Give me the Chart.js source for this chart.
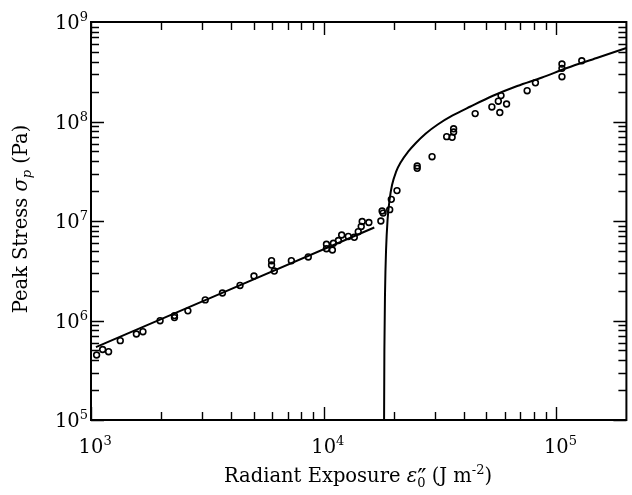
<!DOCTYPE html>
<html>
<head>
<meta charset="utf-8">
<script src="https://cdn.jsdelivr.net/npm/chart.js@4.4.1/dist/chart.umd.min.js"></script>
<style>
  html, body { margin: 0; padding: 0; background: #fff; }
</style>
</head>
<body>
<canvas id="chart" width="632" height="495"></canvas>
<script>
/* ===== Data ===== */
const measX = [1057, 1122, 1190, 1336, 1567, 1672, 1981, 2284, 2284, 2609,
               3097, 3672, 4370, 5016, 5970, 5970, 6135, 7263, 8587, 10280,
               10280, 10900, 11010, 11570, 11950, 12760, 13540, 14080, 14500, 14640,
               15640, 17610, 17830, 18000, 19220, 19530, 20660, 25230, 25230, 29230,
               33780, 35650, 36180, 36180, 44780, 52830, 56310, 57830, 57150, 61100,
               74900, 81290, 105700, 105700, 105700, 128600];
const measY = [4.50e5, 5.11e5, 4.86e5, 6.27e5, 7.32e5, 7.72e5, 9.95e5, 1.12e6, 1.07e6, 1.25e6,
               1.61e6, 1.89e6, 2.25e6, 2.80e6, 3.99e6, 3.61e6, 3.14e6, 3.99e6, 4.35e6, 5.83e6,
               5.27e6, 5.11e6, 5.97e6, 6.37e6, 7.23e6, 6.99e6, 6.86e6, 7.81e6, 8.81e6, 9.89e6,
               9.66e6, 1.00e7, 1.26e7, 1.20e7, 1.30e7, 1.65e7, 2.02e7, 3.57e7, 3.38e7, 4.43e7,
               7.04e7, 6.94e7, 7.84e7, 8.45e7, 1.20e8, 1.40e8, 1.60e8, 1.82e8, 1.23e8, 1.50e8,
               2.04e8, 2.45e8, 3.78e8, 3.42e8, 2.82e8, 4.08e8];

// low-exposure fit (straight on log-log)
const lowFitX = [1050, 16500];
const lowFitY = [5.4e5, 8.6e6];

// high-exposure model curve
const highFitX = [18180, 18235, 18360, 18540, 18815, 19190, 19670, 20460, 21480, 23020,
                  24900, 27480, 30920, 35830, 42770, 53090, 67880, 86800, 111000, 149100, 200000];
const highFitY = [1e5, 5.05e5, 2.03e6, 5.11e6, 1.023e7, 1.626e7, 2.30e7, 3.11e7, 3.92e7, 4.94e7,
                  6.08e7, 7.58e7, 9.33e7, 1.149e8, 1.415e8, 1.804e8, 2.275e8, 2.768e8, 3.449e8, 4.35e8, 5.48e8];

const xTickExps = [3, 4, 5];
const yTickExps = [5, 6, 7, 8, 9];

/* ===== Helpers ===== */
const SERIF = "'DejaVu Serif', serif";
const toPts = (xs, ys) => xs.map((x, i) => ({ x, y: ys[i] }));

// draw a run of text pieces (main / italic / super / sub)
function drawRuns(ctx, runs, x, y, align) {
    let w = 0;
    runs.forEach(r => {
        ctx.font = r.font;
        r.w = ctx.measureText(r.text).width;
        if (!r.stack) w += r.w;
    });
    let cx = align === 'center' ? x - w / 2 : align === 'right' ? x - w : x;
    ctx.textAlign = 'left';
    ctx.textBaseline = 'alphabetic';
    runs.forEach(r => {
        ctx.font = r.font;
        ctx.fillText(r.text, cx + (r.dx || 0), y + (r.dy || 0));
        if (!r.stack) cx += r.w;
    });
}

const framePlugin = {
    id: 'frame',
    afterDraw(chart) {
        const ctx = chart.ctx;
        const { left, right, top, bottom } = chart.chartArea;
        const xs = chart.scales.x, ys = chart.scales.y;
        ctx.save();
        ctx.strokeStyle = '#000';
        ctx.fillStyle = '#000';

        // inward ticks on all four sides
        ctx.lineWidth = 1.4;
        ctx.beginPath();
        for (let d = 3; d <= 5; d++) {
            for (let m = 1; m <= 9; m++) {
                const v = m * Math.pow(10, d);
                if (v < xs.min || v >= xs.max) continue;
                const px = Math.round(xs.getPixelForValue(v)) + 0.5;
                const len = m === 1 ? 13 : 8;
                ctx.moveTo(px, bottom); ctx.lineTo(px, bottom - len);
                ctx.moveTo(px, top); ctx.lineTo(px, top + len);
            }
        }
        for (let d = 5; d <= 8; d++) {
            for (let m = 1; m <= 9; m++) {
                const v = m * Math.pow(10, d);
                const py = Math.round(ys.getPixelForValue(v)) + 0.5;
                const len = m === 1 ? 13 : 8;
                ctx.moveTo(left, py); ctx.lineTo(left + len, py);
                ctx.moveTo(right, py); ctx.lineTo(right - len, py);
            }
        }
        ctx.stroke();

        ctx.lineWidth = 2;
        ctx.strokeRect(left, top, right - left, bottom - top);

        // tick labels
        const big = '19.5px ' + SERIF, small = '13px ' + SERIF;
        xTickExps.forEach(e => {
            const px = xs.getPixelForValue(Math.pow(10, e));
            ctx.font = big;
            const w10 = ctx.measureText('10').width;
            drawRuns(ctx, [
                { text: '10', font: big },
                { text: String(e), font: small, dy: -8 }
            ], px - w10 / 2, 453, 'left');
        });
        yTickExps.forEach(e => {
            const py = ys.getPixelForValue(Math.pow(10, e));
            drawRuns(ctx, [
                { text: '10', font: big },
                { text: String(e), font: small, dy: -8 }
            ], 88, py + 7, 'right');
        });

        // axis titles
        const it = 'italic 19.5px ' + SERIF, itSmall = 'italic 13px ' + SERIF;
        drawRuns(ctx, [
            { text: 'Radiant Exposure ', font: big },
            { text: 'ε', font: it },
            { text: '″', font: '25px ' + SERIF, dy: 4, dx: 0, stack: true },
            { text: '0', font: small, dy: 5 },
            { text: ' (J m', font: big },
            { text: '-2', font: small, dy: -8 },
            { text: ')', font: big }
        ], 358, 482, 'center');

        ctx.translate(27, 219);
        ctx.rotate(-Math.PI / 2);
        drawRuns(ctx, [
            { text: 'Peak Stress ', font: big },
            { text: 'σ', font: it },
            { text: 'p', font: itSmall, dy: 4 },
            { text: ' (Pa)', font: big }
        ], 0, 0, 'center');
        ctx.restore();
    }
};

/* ===== Chart ===== */
const lineStyle = {
    showLine: true, pointRadius: 0, borderColor: '#000', borderWidth: 2,
    fill: false, cubicInterpolationMode: 'monotone'
};

new Chart(document.getElementById('chart'), {
    type: 'scatter',
    data: {
        datasets: [
            { label: 'Measured', data: toPts(measX, measY), pointRadius: 2.9, borderWidth: 1.6,
              borderColor: '#000', backgroundColor: 'rgba(0,0,0,0)', order: 0 },
            { label: 'Low fit', data: toPts(lowFitX, lowFitY), ...lineStyle, order: 1 },
            { label: 'Model', data: toPts(highFitX, highFitY), ...lineStyle, order: 2 }
        ]
    },
    options: {
        responsive: false,
        animation: false,
        devicePixelRatio: 1,
        layout: { padding: { left: 91, right: 2, top: 22, bottom: 75 } },
        plugins: { legend: { display: false }, tooltip: { enabled: false } },
        scales: {
            x: { type: 'logarithmic', min: 1e3, max: 2e5, display: false },
            y: { type: 'logarithmic', min: 1e5, max: 1e9, display: false }
        }
    },
    plugins: [framePlugin]
});
</script>
</body>
</html>
